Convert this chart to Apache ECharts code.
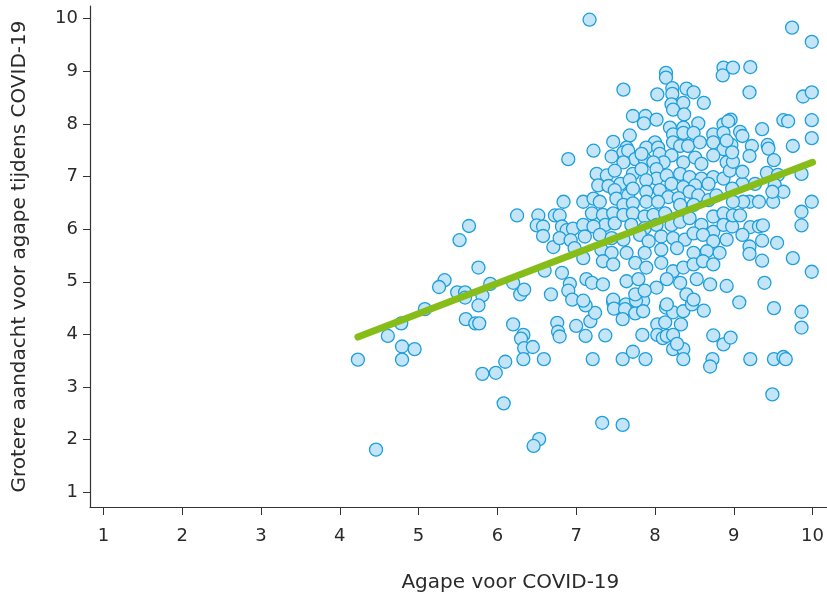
<!DOCTYPE html>
<html>
<head>
<meta charset="utf-8">
<script src="https://cdn.jsdelivr.net/npm/echarts@6/dist/echarts.min.js"></script>
<style>html,body{margin:0;padding:0;background:#fff}#c{width:827px;height:598px}</style>
</head>
<body>
<div id="c"></div>
<script>
const xTicks = [1,2,3,4,5,6,7,8,9,10];
const yTicks = [1,2,3,4,5,6,7,8,9,10];
const xTitle = 'Agape voor COVID-19';
const yTitle = 'Grotere aandacht voor agape tijdens COVID-19';

// [Agape voor COVID-19, Grotere aandacht voor agape tijdens COVID-19]
const upperPoints = [
 [7.17,9.98],[8.14,8.97],[8.14,8.88],[7.60,8.65],[8.03,8.56],
 [9.74,9.83],[9.99,9.56],[8.87,9.07],[8.86,8.92],[8.99,9.07],[9.21,9.08],[9.20,8.60],[9.88,8.52],[9.99,8.60],
 [8.22,8.68],[8.22,8.57],[8.40,8.67],[8.49,8.60],[8.96,8.08],[9.08,7.85],[9.11,7.77],[9.36,7.90],[9.63,8.07],
 [9.69,8.05],[9.99,8.07],[9.99,7.73],[9.75,7.58],[9.43,7.60],[9.44,7.53],[9.23,7.58],[8.97,7.60]
];
const leftPoints = [
 [5.64,6.06],[5.52,5.79],[5.76,5.27],[5.33,5.03],[5.26,4.90],[5.49,4.80],[5.59,4.80],[5.59,4.70],[5.81,4.74],
 [5.91,4.96],[5.08,4.48],[5.76,4.55],[4.78,4.21],[4.61,3.97],[4.79,3.77],[4.79,3.52],[4.95,3.72],[4.23,3.52],
 [4.46,1.81],[5.60,4.29],[5.72,4.21],[5.77,4.21],[5.81,3.25],[5.98,3.27],[6.10,3.48],[6.08,2.69],
 [6.90,7.33],[6.84,6.52],[6.25,6.26],[6.52,6.26],[6.50,6.07],[6.58,6.05],[6.58,5.87],[6.73,6.26],[6.79,6.26],
 [6.82,6.05],[6.88,5.98],[6.71,5.66],[6.79,5.83],[6.96,6.01],[6.93,5.79],[6.98,5.64],[6.82,5.17],[6.60,5.21],
 [6.92,4.96],[6.90,4.83],[6.95,4.66],[7.47,4.61],[7.63,4.57],[7.47,4.66],[7.85,4.64],[6.29,4.76],[6.34,4.85],
 [6.20,4.98],[6.68,4.76]
];
const lowerPoints = [
 [6.20,4.19],[6.33,3.99],[6.30,3.92],[6.34,3.74],[6.45,3.76],[6.33,3.53],[6.59,3.53],[6.76,4.22],[6.77,4.05],
 [6.79,3.96],[7.00,4.16],[7.12,3.97],[7.37,3.98],[7.21,3.53],[7.33,2.32],[7.59,2.28],[6.53,2.01],[6.46,1.88],
 [7.59,3.53],[7.72,3.67],[7.88,3.53],[7.84,3.99],[8.03,4.19],[8.03,3.99],[8.10,3.93],[8.13,4.23],[8.15,3.97],
 [8.14,4.51],[7.18,4.25],[7.24,4.41],[7.12,4.55],[7.09,4.64],[7.48,4.49],[7.62,4.48],[7.59,4.29],[7.75,4.40],
 [7.85,4.44],[7.76,4.64],
 [9.07,4.61],[9.51,4.50],[9.86,4.43],[9.86,4.13],[8.23,4.42],[8.36,4.44],[8.47,4.57],[8.62,4.45],
 [8.33,4.19],[8.23,3.99],[8.23,3.72],[8.36,3.72],[8.36,3.53],[8.28,3.82],[8.74,3.98],[8.87,3.81],[8.96,3.94],
 [8.73,3.53],[8.70,3.39],[9.21,3.53],[9.51,3.53],[9.63,3.57],[9.66,3.53],[9.49,2.86]
];
const corePoints = [
 [8.21,8.37],[8.36,8.40],[8.62,8.40],[8.23,8.27],[8.37,8.18],[7.72,8.15],[7.88,8.15],[8.02,8.08],[7.86,8.01],
 [8.19,7.93],[8.36,7.93],[8.55,8.01],[8.87,7.99],[8.93,8.05],
 [8.23,7.80],[8.36,7.83],[8.49,7.83],[8.74,7.80],[8.87,7.83],[7.68,7.78],[7.47,7.66],[7.64,7.55],[8.00,7.65],
 [7.89,7.55],[8.04,7.55],[8.23,7.65],[8.32,7.58],[8.42,7.58],[8.57,7.65],[8.74,7.65],[8.87,7.52],[8.91,7.68],
 [7.22,7.49],[7.45,7.38],[7.60,7.46],[7.66,7.49],[7.75,7.33],[7.87,7.33],[7.83,7.43],[8.06,7.43],[8.21,7.40],
 [8.36,7.27],[8.51,7.36],[8.59,7.24],[8.74,7.40],[8.91,7.27],[7.60,7.27],[8.11,7.27],[7.98,7.27],
 [7.26,7.05],[7.39,7.02],[7.49,7.11],[7.72,7.05],[7.83,7.14],[8.02,7.14],[8.02,6.96],[8.15,7.02],[8.32,7.05],
 [8.44,6.99],[8.59,6.96],[8.74,6.99],[8.87,6.96],[8.95,7.11],[7.56,6.86],[7.68,6.93],[7.89,6.93],[7.28,6.83],
 [7.41,6.82],[8.21,6.86],[8.36,6.80],[8.51,6.83],[8.68,6.86],
 [7.09,6.52],[7.22,6.58],[7.30,6.52],[7.49,6.74],[7.51,6.58],[7.66,6.64],[7.72,6.77],[7.89,6.71],[8.06,6.74],
 [8.17,6.61],[8.30,6.59],[8.44,6.71],[8.55,6.64],[8.68,6.55],[8.78,6.64],[7.60,6.46],[7.72,6.49],[7.89,6.52],
 [8.04,6.52],[8.32,6.46],[8.49,6.46],[7.20,6.30],[7.34,6.27],[7.47,6.30],
 [7.37,6.08],[7.49,6.11],[7.60,6.27],[7.72,6.30],[7.87,6.24],[7.98,6.27],[8.13,6.30],[8.21,6.08],[8.32,6.14],
 [8.44,6.21],[8.59,6.08],[8.74,6.24],[8.87,6.30],[7.09,6.08],[7.22,6.05],[7.70,6.08],[7.87,6.02],[8.02,6.08],
 [8.74,5.95],[8.87,6.08],
 [7.11,5.86],[7.30,5.89],[7.45,5.83],[7.60,5.80],[7.81,5.89],[7.92,5.77],[8.08,5.86],[8.23,5.83],[8.38,5.80],
 [8.49,5.92],[8.61,5.89],[8.74,5.77],[8.91,5.80],[7.09,5.45],[7.32,5.61],[7.45,5.55],[7.64,5.55],[7.87,5.55],
 [8.08,5.61],[8.28,5.64],[8.49,5.55],[8.66,5.58],[8.82,5.55],
 [7.34,5.39],[7.47,5.33],[7.75,5.36],[7.89,5.27],[8.08,5.36],[8.23,5.20],[8.36,5.27],[8.49,5.33],[8.61,5.39],
 [8.74,5.33],[7.13,5.05],[7.20,4.98],[7.34,4.95],[7.64,5.01],[7.79,5.05],[8.02,4.89],[8.15,5.05],[8.32,4.98],
 [8.53,5.05],[8.70,4.95],[8.91,4.92],[7.75,4.76],[7.87,4.83],[8.40,4.76]
];
const rightPoints = [
 [9.99,6.52],[9.86,6.33],[9.86,6.07],[9.86,7.05],[9.75,5.45],[9.99,5.19],[9.55,5.74],[9.36,5.78],[9.36,5.40],
 [9.20,5.67],[9.20,5.53],[9.39,4.98],[9.51,7.31],[9.20,7.39],[9.42,7.07],[9.56,7.03],[9.52,6.84],[9.50,6.52],
 [9.63,6.71],[9.49,6.71],[9.20,6.52],[9.32,6.52],[9.12,6.52],[8.99,6.52],[9.21,6.04],[9.32,6.05],[9.37,6.07],
 [9.11,5.89],[8.98,6.05],[8.99,6.26],[9.08,6.26],[8.99,7.28],[8.98,7.46],[9.11,6.86],[9.27,6.86],[9.11,7.09],
 [8.98,6.77],[8.49,4.66],[8.15,4.57]
];
// regression line end points
const fitX = [4.23, 10];
const fitY = [3.95, 7.27];

const points = [].concat(upperPoints, leftPoints, lowerPoints, corePoints, rightPoints);
const fitLine = fitX.map((x, i) => [x, fitY[i]]);

const FONT = 'DejaVu Sans';
const chart = echarts.init(document.getElementById('c'), null, {renderer: 'canvas'});
chart.setOption({
  animation: false,
  backgroundColor: '#fff',
  grid: {left: 90, right: 0, top: 6, bottom: 86, containLabel: false},
  xAxis: {
    type: 'value', min: 0.83, max: 10.18,
    name: xTitle, nameLocation: 'middle', nameGap: 66,
    nameTextStyle: {fontFamily: FONT, fontSize: 20, color: '#2a2a2a', padding: [0,0,0,104]},
    axisLine: {show: true, lineStyle: {color: '#333', width: 1.2}},
    axisTick: {show: true, customValues: xTicks, length: 8, lineStyle: {color: '#333'}},
    axisLabel: {customValues: xTicks, margin: 20, fontFamily: FONT, fontSize: 18, color: '#2a2a2a'},
    splitLine: {show: false}
  },
  yAxis: {
    type: 'value', min: 0.72, max: 10.24,
    name: yTitle, nameLocation: 'middle', nameGap: 60,
    nameTextStyle: {fontFamily: FONT, fontSize: 20, color: '#2a2a2a'},
    axisLine: {show: true, lineStyle: {color: '#333', width: 1.2}},
    axisTick: {show: true, customValues: yTicks, length: 7, lineStyle: {color: '#333'}},
    axisLabel: {customValues: yTicks, margin: 12, fontFamily: FONT, fontSize: 18, color: '#2a2a2a'},
    splitLine: {show: false}
  },
  series: [
    {
      type: 'scatter', data: points, symbol: 'circle', symbolSize: 13,
      itemStyle: {color: '#c4e5f7', borderColor: '#1d9fdc', borderWidth: 1.3, opacity: 1},
      z: 2
    },
    {
      type: 'line', data: fitLine, symbol: 'none', silent: true,
      lineStyle: {color: '#86bd18', width: 7, cap: 'round'},
      z: 3
    }
  ]
});
</script>
</body>
</html>
